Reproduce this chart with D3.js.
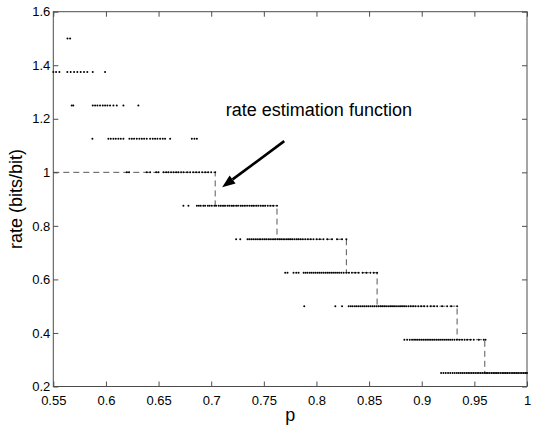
<!DOCTYPE html>
<html><head><meta charset="utf-8">
<script src="https://cdn.jsdelivr.net/npm/d3@7"></script>
<style>body{margin:0;background:#fff;}svg{display:block;}</style>
</head><body>
<svg id="c" width="533" height="426"></svg>
<script>
// ---- data ----
const xTicks = [0.55, 0.6, 0.65, 0.7, 0.75, 0.8, 0.85, 0.9, 0.95, 1];
const xTickLabels = ["0.55","0.6","0.65","0.7","0.75","0.8","0.85","0.9","0.95","1"];
const yTicks = [0.2, 0.4, 0.6, 0.8, 1, 1.2, 1.4, 1.6];
const yTickLabels = ["0.2","0.4","0.6","0.8","1","1.2","1.4","1.6"];

const levels = [1.5, 1.375, 1.25, 1.125, 1.0, 0.875, 0.75, 0.625, 0.5, 0.375, 0.25];
const p150 = [0.5635, 0.5660];
const p1375 = [0.5500, 0.5526, 0.5558, 0.5633, 0.5665, 0.5697, 0.5728, 0.5760, 0.5792, 0.5823, 0.5875, 0.5992];
const p125 = [0.5675, 0.5690, 0.5875, 0.5897, 0.5919, 0.5944, 0.5970, 0.5992, 0.6014, 0.6039, 0.6071, 0.6103, 0.6166, 0.6308];
const p1125 = [0.5871, 0.6023, 0.6046, 0.6071, 0.6093, 0.6118, 0.6141, 0.6166, 0.6223, 0.6246, 0.6267, 0.6293, 0.6318, 0.6341, 0.6363, 0.6388, 0.6420, 0.6445, 0.6467, 0.6489, 0.6515, 0.6540, 0.6562, 0.6610, 0.6816, 0.6841, 0.6864];
const p100 = [0.6198, 0.6220, 0.6388, 0.6420, 0.6477, 0.6499, 0.6546, 0.6572, 0.6594, 0.6619, 0.6641, 0.6667, 0.6689, 0.6714, 0.6736, 0.6771, 0.6800, 0.6828, 0.6857, 0.6886, 0.6914, 0.6943, 0.6971, 0.7000, 0.7038];
const p0875 = [0.6736, 0.6784, 0.6864, 0.6883, 0.6901, 0.6925, 0.6942, 0.6968, 0.6985, 0.7006, 0.7030, 0.7047, 0.7071, 0.7090, 0.7112, 0.7131, 0.7154, 0.7172, 0.7196, 0.7213, 0.7238, 0.7255, 0.7279, 0.7298, 0.7320, 0.7341, 0.7362, 0.7385, 0.7404, 0.7428, 0.7447, 0.7469, 0.7492, 0.7513, 0.7537, 0.7561, 0.7589, 0.7625];
const p075 = [0.7237, 0.7276, 0.7345, 0.7362, 0.7381, 0.7399, 0.7418, 0.7436, 0.7455, 0.7471, 0.7490, 0.7508, 0.7524, 0.7543, 0.7559, 0.7578, 0.7596, 0.7611, 0.7630, 0.7648, 0.7665, 0.7683, 0.7700, 0.7719, 0.7737, 0.7754, 0.7772, 0.7791, 0.7810, 0.7828, 0.7849, 0.7871, 0.7893, 0.7918, 0.7945, 0.7972, 0.8001, 0.8032, 0.8066, 0.8103, 0.8148, 0.8195, 0.8243, 0.8284];
const p0625 = [0.7703, 0.7725, 0.7782, 0.7808, 0.7830, 0.7878, 0.7897, 0.7915, 0.7936, 0.7954, 0.7973, 0.7992, 0.8011, 0.8029, 0.8047, 0.8066, 0.8085, 0.8103, 0.8121, 0.8140, 0.8158, 0.8177, 0.8196, 0.8215, 0.8236, 0.8258, 0.8283, 0.8309, 0.8337, 0.8368, 0.8401, 0.8438, 0.8475, 0.8512, 0.8543, 0.8576];
const p050 = [0.7884, 0.8179, 0.8243, 0.8306, 0.8326, 0.8344, 0.8365, 0.8383, 0.8402, 0.8421, 0.8440, 0.8458, 0.8477, 0.8495, 0.8514, 0.8533, 0.8551, 0.8570, 0.8588, 0.8607, 0.8625, 0.8644, 0.8662, 0.8681, 0.8700, 0.8718, 0.8737, 0.8756, 0.8775, 0.8794, 0.8813, 0.8833, 0.8852, 0.8873, 0.8895, 0.8918, 0.8942, 0.8967, 0.8994, 0.9023, 0.9053, 0.9085, 0.9117, 0.9146, 0.9194, 0.9241, 0.9279, 0.9336];
const p0375 = [0.8835, 0.8861, 0.8886, 0.8908, 0.8927, 0.8945, 0.8963, 0.8981, 0.8999, 0.9016, 0.9034, 0.9051, 0.9069, 0.9086, 0.9104, 0.9121, 0.9139, 0.9157, 0.9175, 0.9194, 0.9213, 0.9232, 0.9251, 0.9270, 0.9290, 0.9311, 0.9334, 0.9358, 0.9383, 0.9407, 0.9431, 0.9463, 0.9494, 0.9542, 0.9589, 0.9606];
const p025 = [0.9184, 0.9206, 0.9228, 0.9250, 0.9271, 0.9293, 0.9313, 0.9334, 0.9352, 0.9371, 0.9389, 0.9406, 0.9424, 0.9441, 0.9458, 0.9475, 0.9492, 0.9509, 0.9526, 0.9543, 0.9560, 0.9577, 0.9594, 0.9611, 0.9628, 0.9645, 0.9662, 0.9679, 0.9696, 0.9713, 0.9730, 0.9747, 0.9764, 0.9781, 0.9798, 0.9815, 0.9832, 0.9849, 0.9866, 0.9883, 0.9900, 0.9917, 0.9934, 0.9951, 0.9968, 0.9985, 1.0000];
const rowPs = [p150, p1375, p125, p1125, p100, p0875, p075, p0625, p050, p0375, p025];

// step function (rate estimation function)
const stepP = [0.55, 0.7038, 0.7625, 0.8284, 0.8576, 0.9336, 0.9599, 1.0];
const stepRate = [1.0, 0.875, 0.75, 0.625, 0.5, 0.375, 0.25, 0.25];

// annotation
const annoText = "rate estimation function";
const annoTextPos = [0.7139, 1.2101];
const arrowFrom = [0.7694, 1.1166];
const arrowTo = [0.7104, 0.9447];

// ---- drawing ----
const svg = d3.select("#c");
const L = 53.3, R = 527, T = 11.7, B = 386.5;
const x = d3.scaleLinear().domain([0.55, 1]).range([L, R]);
const y = d3.scaleLinear().domain([0.2, 1.6]).range([B, T]);
const font = "'Liberation Sans', Arial, sans-serif";
const axisColor = "#4d4d4d";

// box
svg.append("rect").attr("x", L).attr("y", T).attr("width", R - L).attr("height", B - T)
  .attr("fill", "none").attr("stroke", axisColor).attr("stroke-width", 1);

// axes with inward ticks
const xb = svg.append("g").attr("transform", `translate(0,${B})`)
  .call(d3.axisBottom(x).tickValues(xTicks).tickSize(-5).tickPadding(9).tickFormat((d, i) => xTickLabels[i]));
const xt = svg.append("g").attr("transform", `translate(0,${T})`)
  .call(d3.axisTop(x).tickValues(xTicks).tickSize(-5).tickFormat(""));
const yl = svg.append("g").attr("transform", `translate(${L},0)`)
  .call(d3.axisLeft(y).tickValues(yTicks).tickSize(-5).tickPadding(3).tickFormat((d, i) => yTickLabels[i]));
const yr = svg.append("g").attr("transform", `translate(${R},0)`)
  .call(d3.axisRight(y).tickValues(yTicks).tickSize(-5).tickFormat(""));
[xb, xt, yl, yr].forEach(g => {
  g.select(".domain").remove();
  g.selectAll(".tick line").attr("stroke", axisColor);
  g.selectAll("text").attr("font-family", font).attr("font-size", 13).attr("fill", "#000");
});

// step line
const stepData = stepP.map((p, i) => [p, stepRate[i]]);
svg.append("path").datum(stepData)
  .attr("d", d3.line().x(d => x(d[0])).y(d => y(d[1])).curve(d3.curveStepAfter))
  .attr("fill", "none").attr("stroke", "#444").attr("stroke-width", 0.9)
  .attr("stroke-dasharray", "6,4");

// dots
const pts = [];
rowPs.forEach((arr, i) => arr.forEach(p => pts.push([p, levels[i]])));
svg.append("g").selectAll("circle").data(pts).join("circle")
  .attr("cx", d => x(d[0])).attr("cy", d => y(d[1])).attr("r", 1.0).attr("fill", "#000");

// annotation arrow
const x1 = x(arrowFrom[0]), y1 = y(arrowFrom[1]), x2 = x(arrowTo[0]), y2 = y(arrowTo[1]);
const ang = Math.atan2(y2 - y1, x2 - x1);
const hl = 13, hw = 5;
const bx = x2 - hl * Math.cos(ang), by = y2 - hl * Math.sin(ang);
svg.append("line").attr("x1", x1).attr("y1", y1).attr("x2", bx).attr("y2", by)
  .attr("stroke", "#000").attr("stroke-width", 2.6);
svg.append("path")
  .attr("d", `M${x2},${y2}L${bx + hw * Math.sin(ang)},${by - hw * Math.cos(ang)}L${bx - hw * Math.sin(ang)},${by + hw * Math.cos(ang)}Z`)
  .attr("fill", "#000");
svg.append("text").attr("x", x(annoTextPos[0])).attr("y", y(annoTextPos[1]))
  .attr("font-family", font).attr("font-size", 18).text(annoText);

// axis labels
svg.append("text").attr("x", (L + R) / 2).attr("y", 421).attr("text-anchor", "middle")
  .attr("font-family", font).attr("font-size", 18).text("p");
svg.append("text").attr("transform", `translate(22,${(T + B) / 2}) rotate(-90)`)
  .attr("text-anchor", "middle").attr("font-family", font).attr("font-size", 18).text("rate (bits/bit)");
</script>
</body></html>
